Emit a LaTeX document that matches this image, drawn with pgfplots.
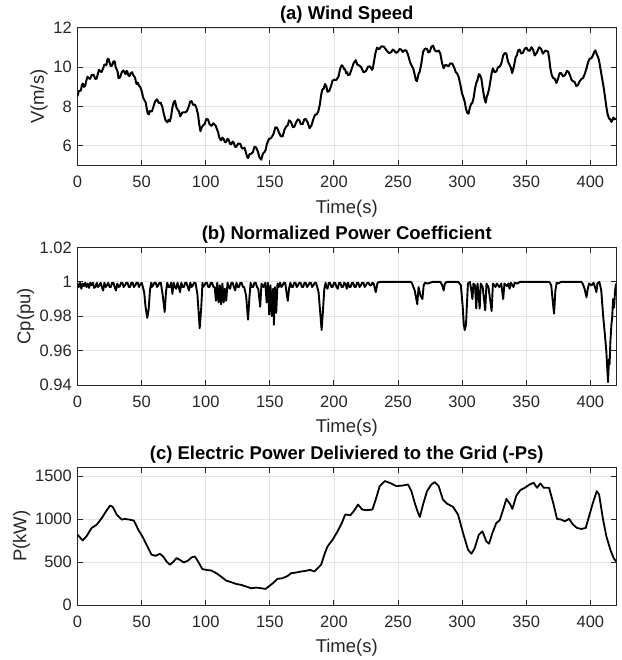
\documentclass[border=0pt]{standalone}
\usepackage{fontspec}
\setmainfont{Liberation Sans}
\usepackage{pgfplots}
\pgfplotsset{compat=1.18}
\definecolor{txt}{HTML}{262626}
\definecolor{gridc}{HTML}{E3E3E3}

\pgfplotsset{mystyle/.style={
  scale only axis, width=538.5pt, height=137.5pt,
  xmin=0, xmax=420, xtick={0,50,...,400},
  grid=major, major grid style={gridc, line width=0.8pt},
  axis line style={txt, line width=1pt},
  tick style={txt, line width=1pt}, tick align=inside, major tick length=5pt,
  tick label style={font=\fontsize{16.5}{19}\selectfont, text=txt},
  /pgf/number format/assume math mode=true,
  xticklabel style={anchor=base, yshift=-22.5pt, inner sep=0pt},
  yticklabel style={anchor=east, xshift=-5.5pt, inner sep=0pt},
  scaled ticks=false,
  /pgf/number format/1000 sep={},
  xlabel={Time(s)},
  label style={font=\fontsize{18.5}{21}\selectfont, text=txt},
  xlabel style={at={(axis description cs:0.5,0)}, anchor=base, yshift=-47.5pt},
  every axis title shift=0pt,
  title style={font=\fontsize{18.5}{21}\selectfont\bfseries, at={(axis description cs:0.5,1)}, anchor=base, yshift=8pt},
  every axis plot/.append style={black, line width=1.8pt, line join=round},
}}

\pgfplotstableread{
t v
0 8.53
1 8.79
2 8.8
2.7 8.83
3.4 9.1
4.2 9.17
5 9.0
6 9.06
7 9.35
7.8 9.52
8.5 9.45
9.8 9.41
11 9.6
12.5 9.62
14 9.4
15 9.43
16 9.7
16.8 9.87
17.6 9.8
18.8 9.76
20 9.95
21 10.14
22 10.1
22.6 10.13
23.3 10.4
24.2 10.43
25 10.25
26 10.06
27 10.1
28 10.3
29 10.3
29.8 10.0
30.5 9.9
31.2 9.8
32 9.45
33.2 9.48
34.5 9.75
35.8 9.84
37 9.7
37.5 9.65
38 9.8
38.8 9.8
39.6 9.6
40.5 9.55
41.5 9.7
42.5 9.75
43.5 9.6
44.8 9.48
46 9.15
47 9.22
48 9.05
49 9.0
50 8.8
51.3 8.44
52.6 8.28
53.3 8.19
54 7.9
54.8 7.65
55.7 7.6
56.3 7.78
57 7.75
58 7.75
59 7.95
60.5 8.26
62 8.37
63.4 8.18
64.8 8.2
66.1 8.0
67.4 7.6
68.7 7.3
70 7.2
71 7.32
72 7.25
73 7.5
74 7.95
75 8.22
76 8.3
77.2 7.95
78.5 7.8
79.2 7.75
80 7.5
81.8 7.7
83.7 7.7
85.2 7.75
86.8 8.0
87.8 8.24
88.9 8.28
90.2 8.09
91.5 8.1
92.7 7.95
94 7.6
95 7.08
95.9 6.75
97 6.95
98 7.05
99.2 7.11
100.5 7.37
101.8 7.34
103 7.1
104.5 7.02
106 7.15
107.8 7.02
109.6 6.7
110.8 6.39
112 6.28
113 6.42
114 6.35
115 6.18
116 6.2
117 6.35
118 6.3
119 6.09
120 6.08
121 6.22
122 6.15
122.9 5.95
123.8 5.95
125.4 6.12
127 6.1
128.2 5.88
129.5 5.87
130.2 5.91
131 5.75
132 5.51
133 5.37
134.2 5.58
135.5 5.6
136.8 5.68
138 5.95
139.3 5.92
140.7 5.7
142 5.4
143.3 5.3
144.6 5.6
146 5.7
146.8 5.8
147.7 6.1
149.3 6.35
151 6.4
152.7 6.58
154.4 6.95
155.7 6.92
157 6.7
158.5 6.49
160 6.48
161.5 6.84
163 7.0
164 7.05
165 7.3
166.5 7.22
168 6.95
169.2 6.98
170.5 7.2
171.8 7.35
173 7.3
174.3 7.1
175.6 7.1
176.8 7.34
178 7.37
179.5 7.19
181 6.9
182.5 7.04
184 7.37
185.2 7.58
186.5 7.6
187.8 7.75
189 8.1
190 8.58
191 8.87
192 8.91
193 9.15
194 9.05
195 8.75
196.3 8.79
197.7 9.03
198.8 9.3
200 9.37
201.8 9.35
203.6 9.53
204.8 9.92
206 10.1
207 10.05
208 9.9
208.7 9.9
209.5 9.7
210.2 9.75
211 9.6
212.3 9.63
213.6 9.87
215.3 10.2
217 10.36
218.3 10.13
219.6 10.1
221.3 10.0
223 9.75
224.8 9.79
226.6 10.03
228.1 10.05
229.7 9.87
230.3 9.93
231 10.2
232.3 10.7
233.6 11.0
235.3 10.92
237 11.07
239 11.05
241 10.86
243 10.72
244.8 10.78
245.9 10.9
247 10.85
248.5 10.73
250 10.8
251.2 10.93
252.5 10.9
253.7 10.78
255 10.86
256.4 10.86
257.8 10.64
259.4 10.25
261 10.03
262 9.9
263 9.62
263.9 9.35
264.8 9.29
265.9 9.64
267 9.79
268.2 10.2
269.5 10.78
271 10.95
272.6 10.94
273.6 10.76
274.7 10.78
276 11.04
277.3 11.1
278.8 10.85
280.4 10.8
281.7 10.85
283 10.7
284.3 10.22
285.6 9.95
286.8 10.12
288 10.1
289.4 10.05
290.8 10.2
292.4 10.18
294 9.95
295 9.75
296 9.7
297.3 9.5
298.6 9.12
299.8 8.7
301 8.46
302 8.25
303 7.88
304 7.68
305 7.64
306 7.95
307 8.13
308 8.2
309 8.46
310 8.9
311 9.2
312 9.35
313 9.65
314 9.6
315 9.42
315.9 9.0
316.8 8.63
317.6 8.35
318.4 8.2
319.2 8.5
320 8.63
321 8.9
322 9.29
323 9.7
324 9.95
325.3 9.75
326.7 9.79
328 10.0
329.3 10.03
330.6 10.2
332 10.6
333.2 10.72
334.5 10.7
335.7 10.3
337 10.12
338 9.98
339 9.7
340.4 10.05
341.8 10.53
342.7 10.6
343.6 10.86
344.8 10.9
346 10.7
347.4 10.74
348.8 10.94
350.1 11.0
351.4 10.86
352.7 10.84
354 11.02
355.3 10.9
356.6 10.6
358.3 10.75
360 11.02
361.5 10.95
363 10.7
365 10.85
367 10.8
367.9 10.45
368.8 9.95
369.9 9.6
371 9.45
372.2 9.42
373.5 9.2
374.7 9.4
376 9.7
377.3 9.7
378.7 9.54
380.2 9.6
381.8 9.82
383.1 9.75
384.4 9.54
385.4 9.35
386.5 9.29
387.7 9.25
389 9.04
390.3 9.1
391.7 9.29
393 9.4
394.3 9.45
395.6 9.65
397 9.95
398.2 10.25
399.5 10.45
400.7 10.45
402 10.6
403 10.78
404 10.86
405 10.65
406 10.53
406.9 10.3
407.8 9.95
409.1 9.45
410.4 8.96
411.4 8.5
412.5 7.97
413.5 7.6
414.6 7.39
415.5 7.35
416.4 7.22
417.2 7.3
418 7.44
419 7.35
420 7.39
}\windtable

\pgfplotstableread{
t c
0 0.999
1 0.997
2 0.9995
3 0.996
4 0.999
5 0.9975
6 0.9995
7 0.997
8 0.999
9 0.9965
10 0.9995
11 0.998
12 0.9995
13 0.9965
14 0.997
15 0.9995
16 0.997
17 0.998
18 0.9995
19 0.997
20 0.995
21 0.9995
22 0.997
23 0.998
24 0.9995
25 0.997
26 0.997
27 0.9995
28 0.9995
29 0.997
30 0.995
31 0.999
32 0.997
33 0.9975
34 0.9995
35 0.9995
36 0.997
37 0.998
38 0.9995
39 0.9995
40 0.997
41 0.997
42 0.9995
43 0.9995
44 0.997
45 0.998
46 0.9995
47 0.9995
48 0.997
49 0.9985
50 0.9995
51 0.997
52 0.994
53 0.986
54.4 0.979
55.5 0.984
56.5 0.995
57.5 0.9995
58 0.997
59 0.998
60 0.9995
61 0.9995
62 0.997
63 0.998
64 0.9995
65 0.9995
66.5 0.992
68 0.9825
69 0.994
70 0.9995
71 0.997
72 0.997
73 0.9995
74 0.993
75 0.9995
76 0.997
77 0.996
78 0.9995
79 0.997
80 0.994
81 0.9995
82 0.997
83 0.997
84 0.9995
85 0.9995
86 0.997
87 0.995
88 0.9995
89 0.997
90 0.998
91 0.9995
92 0.9995
93.5 0.993
95.3 0.973
96.5 0.985
97.5 0.9995
98 0.997
99 0.998
100 0.9995
101 0.9995
102 0.997
103 0.997
104 0.9995
105 0.9995
106 0.997
107 0.997
108 0.989
109 0.9995
110 0.988
111 0.998
112 0.987
113 0.999
114 0.988
115 0.996
116 0.989
117 0.9995
118 0.997
119 0.996
120 0.9995
121 0.9995
122 0.997
123 0.995
124 0.9995
125 0.997
126 0.997
127 0.9995
128 0.9995
129 0.997
130 0.997
131.5 0.992
133 0.978
134 0.99
135 0.9995
136 0.997
137 0.997
138 0.9995
139 0.9995
140 0.997
141 0.996
142.5 0.9855
143.5 0.999
145 0.997
146.5 0.9995
147.5 0.988
148.5 0.9995
149.5 0.981
150.5 0.998
151.5 0.98
152.5 0.996
153.2 0.975
154 0.997
155 0.982
156 0.999
157 0.997
158 0.9995
159 0.997
160 0.998
161 0.9995
162 0.9995
163 0.994
164 0.989
165 0.996
166 0.9995
167 0.997
168 0.997
169 0.9995
170 0.9995
171 0.997
172 0.998
173 0.9995
174 0.9995
175 0.997
176 0.997
177 0.9995
178 0.9995
179 0.997
180 0.998
181 0.9995
182 0.9995
183 0.997
184 0.998
185 0.9995
186 0.9995
187 0.997
188 0.994
189 0.985
190.4 0.972
191.5 0.984
192.5 0.996
193.5 0.9995
194 0.997
195 0.996
196 0.9995
197 0.9995
198 0.997
199 0.997
200 0.9995
201 0.9995
202 0.997
203 0.996
204 0.9995
205 0.9995
206 0.997
207 0.997
208 0.9995
209 0.999
210 0.996
211 0.9995
212 0.997
213 0.997
214 0.9995
215 0.9995
216 0.997
217 0.997
218 0.9995
219 0.9995
220 0.997
221 0.998
222 0.9995
223 0.9995
224 0.997
225 0.998
226 0.9995
227 0.9995
228 0.998
229 0.998
230 0.9995
231 0.999
232.6 0.994
234 0.9995
236 1.0
260 1.0
261 0.999
263 0.995
265 0.987
266 0.997
267.5 0.992
269 0.990
270 0.998
271 0.9995
273 0.999
275 0.9995
277 1.0
283 1.0
284.5 0.998
285.6 0.995
286.5 0.999
288 1.0
297 1.0
299 0.998
300.5 0.985
301.2 0.976
302 0.972
303 0.975
303.8 0.988
304.5 0.999
306 1.0
307 0.996
308 0.99
308.8 0.999
310 0.998
311 0.9845
312 0.999
313.7 0.9845
314.5 0.999
316 0.997
318 0.9835
319 0.999
320.5 0.997
323 0.983
324 0.999
326 0.997
327 0.999
329 0.997
330.5 0.999
332 0.990
333 0.999
335 0.9975
336 0.999
337 0.996
338 0.9995
340 0.997
341 0.9995
343 0.999
345 1.0
368 1.0
369.5 0.998
370.5 0.990
371.7 0.9815
372.7 0.995
373.7 0.9995
375 0.999
377 1.0
393 1.0
394 0.999
395.5 0.996
397 0.991
398 0.996
399 0.999
401 0.998
402.5 0.9995
404 0.996
404.7 0.994
405.5 0.999
407 1.0
408.5 0.995
410 0.98
411.5 0.968
412.5 0.959
413.3 0.948
413.8 0.9417
414.5 0.955
415 0.952
415.6 0.965
416.4 0.975
417 0.979
417.7 0.99
418.5 0.985
419.3 0.995
420 0.999
}\cptable

\pgfplotstableread{
t p
0 818
4 752
7 799
11 896
15 935
19 1013
22.3 1091
25.4 1157
27.5 1142
30.6 1052
34.5 994
37 1002
40.4 994
44 982
47.4 877
51.3 779
55.2 662
57.8 585
61 573
64.2 596
66.8 565
69.4 507
72 468
75 507
77.2 546
79.8 526
82.9 495
86.3 518
88.9 553
91.5 565
94 507
97.4 417
100.5 409
104.4 401
108.3 370
112 331
116 284
120 265
123.8 245
127.7 234
131.6 214
135.5 195
139.4 203
143.3 195
146.6 187
149 214
152.3 253
156 304
160 312
164 339
166.6 370
170.5 378
174.4 390
178 397
181.3 409
184.7 390
187.3 429
190 468
192.5 585
195 682
199 760
202.8 857
206.2 955
208.8 1052
210 1052
212.8 1044
215.4 1091
218.8 1169
222 1111
225.3 1103
230 1111
232.6 1228
235.7 1383
239.6 1442
243.5 1422
248.7 1383
254 1391
257.8 1403
260.4 1325
263 1189
265.6 1072
267 1025
269.5 1169
272.6 1325
276 1403
278.6 1430
281.7 1383
285 1228
288 1181
292.9 1142
296.8 1052
300.7 838
304.6 643
307.2 596
309.8 662
313 818
315.8 857
318.9 740
321 713
323.6 838
326.7 955
329.3 986
332 1111
334.5 1235
337.6 1169
339.2 1118
342.3 1274
345.4 1337
348.8 1364
352.7 1403
355.8 1422
358.4 1364
361 1415
363.6 1364
367.8 1364
371 1189
374 1002
377.4 994
380 974
383.4 1002
386.5 935
389.6 896
393 885
396.4 896
399 1033
402 1189
405 1325
406.8 1286
409.9 994
412.5 799
415.6 643
418.2 546
420 507
}\powertable

\begin{document}
\begin{tikzpicture}
\useasboundingbox (-77.5pt,-660pt) rectangle (543.5pt,0pt);

\begin{axis}[mystyle, at={(0pt,-165.5pt)}, anchor=south west,
  ymin=5, ymax=12, ytick={6,8,10,12},
  title={(a) Wind Speed},
  ylabel={V(m/s)},
  ylabel style={at={([xshift=-33.5pt]axis description cs:0,0.5)}, anchor=base},
]
\addplot[line width=2pt] table[x=t,y=v] {\windtable};
\end{axis}

\begin{axis}[mystyle, at={(0pt,-385pt)}, anchor=south west,
  ymin=0.94, ymax=1.02, ytick={0.94,0.96,0.98,1,1.02},
  yticklabel style={/pgf/number format/fixed, /pgf/number format/precision=2},
  title={(b) Normalized Power Coefficient},
  ylabel={Cp(pu)},
  ylabel style={at={([xshift=-47pt]axis description cs:0,0.5)}, anchor=base},
]
\addplot[line width=1.9pt] table[x=t,y=c] {\cptable};
\end{axis}

\begin{axis}[mystyle, at={(0pt,-605pt)}, anchor=south west,
  ymin=0, ymax=1600, ytick={0,500,1000,1500},
  title={(c) Electric Power Deliviered to the Grid (-Ps)},
  ylabel={P(kW)},
  ylabel style={at={([xshift=-51pt]axis description cs:0,0.5)}, anchor=base},
]
\addplot[line width=1.8pt] table[x=t,y=p] {\powertable};
\end{axis}
\end{tikzpicture}
\end{document}
